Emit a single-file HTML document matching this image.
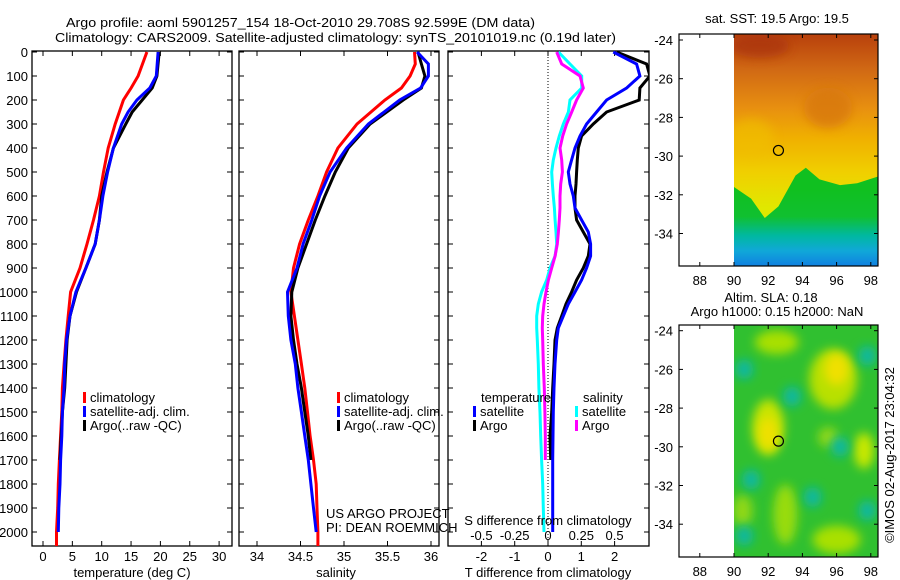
<!DOCTYPE html>
<html><head><meta charset="utf-8">
<style>
html,body{margin:0;padding:0;background:#fff;}
svg{display:block;font-family:"Liberation Sans",sans-serif;}
text{fill:#000;font-size:13px;}
</style></head>
<body>
<svg id="fig" width="900" height="580" viewBox="0 0 900 580">
<defs>
<clipPath id="c1"><rect x="32" y="51" width="200" height="495"/></clipPath>
<clipPath id="c2"><rect x="239" y="51" width="200" height="495"/></clipPath>
<clipPath id="c3"><rect x="448" y="51" width="201" height="495"/></clipPath>
<clipPath id="cm1"><rect x="734" y="34" width="144" height="232"/></clipPath>
<clipPath id="cm2"><rect x="734" y="325" width="144" height="232"/></clipPath>
<linearGradient id="sstg" x1="0" y1="34" x2="0" y2="266" gradientUnits="userSpaceOnUse">
<stop offset="0" stop-color="#b8400c"/><stop offset="0.15" stop-color="#d06814"/>
<stop offset="0.32" stop-color="#e89010"/><stop offset="0.45" stop-color="#f0b000"/>
<stop offset="0.6" stop-color="#f0d000"/><stop offset="0.75" stop-color="#e0e800"/><stop offset="1" stop-color="#d0e800"/></linearGradient>
<linearGradient id="greeng" x1="0" y1="190" x2="0" y2="266" gradientUnits="userSpaceOnUse">
<stop offset="0" stop-color="#10c020"/><stop offset="0.35" stop-color="#10c030"/>
<stop offset="0.6" stop-color="#00b8a0"/><stop offset="0.8" stop-color="#10a8d8"/><stop offset="1" stop-color="#1080e0"/></linearGradient>
<filter id="blur" x="-50%" y="-50%" width="200%" height="200%"><feGaussianBlur stdDeviation="5"/></filter>
</defs>
<g id="panels"></g>
</svg>
<script>
// ---- data ----
const tDepths = [0,100,150,200,250,300,400,500,600,700,800,900,1000,1100,1200,1300,1400,1500,1600,1700,1800,1900,2000,2060];
const tClim = [17.7,16.2,15.0,13.7,13.0,12.3,11.1,10.3,9.6,8.6,7.5,6.3,4.7,4.3,3.9,3.6,3.3,3.2,3.0,2.8,2.6,2.5,2.3,2.3];
const tSat = [19.6,19.3,18.2,16.0,14.5,13.4,12.0,11.0,10.2,9.6,8.9,7.3,5.6,4.6,4.0,3.7,3.6,3.3,3.2,3.0,2.9,2.7,2.6];
const tArgo = [19.8,19.4,18.6,16.9,15.2,14.1,12.0,10.9,10.0,9.6,8.9,7.3,5.7,4.6,4.1,3.9,3.7,3.3,3.1,2.9];
const sDepths = [0,50,100,150,200,300,400,500,600,700,800,900,1000,1100,1200,1300,1400,1500,1600,1700,1800,1900,2000,2060];
const sClim = [35.81,35.82,35.76,35.66,35.47,35.15,34.93,34.80,34.70,34.59,34.49,34.42,34.39,34.43,34.47,34.51,34.55,34.58,34.61,34.65,34.68,34.69,34.70,34.70];
const sSat = [35.84,35.97,35.97,35.88,35.64,35.28,35.03,34.84,34.72,34.63,34.53,34.46,34.35,34.36,34.39,34.44,34.47,34.51,34.55,34.59,34.62,34.65,34.68];
const sArgo = [35.85,35.89,35.93,35.89,35.68,35.30,35.05,34.90,34.78,34.67,34.57,34.47,34.40,34.39,34.42,34.46,34.51,34.55,34.59,34.62];
const dDepths = [0,50,100,150,200,250,300,350,400,450,500,550,600,650,700,750,800,850,900,950,1000,1050,1100,1150,1200,1300,1400,1500,1600,1700,1800,1900,2000];
const dTSat = [1.96,2.66,2.76,2.36,1.76,1.46,1.16,0.96,0.81,0.71,0.61,0.66,0.76,0.81,1.01,1.21,1.28,1.28,1.16,1.01,0.81,0.61,0.46,0.31,0.26,0.21,0.18,0.16,0.15,0.14,0.14,0.14,0.14];
const dTArgo = [2.06,2.96,3.06,2.76,2.74,1.76,1.36,1.01,0.91,0.88,0.86,0.84,0.81,0.81,0.86,1.06,1.26,1.21,1.06,0.86,0.71,0.54,0.41,0.28,0.21,0.18,0.14,0.11,0.06,0.08];
const dSSat = [0.078,0.165,0.253,0.253,0.165,0.153,0.115,0.085,0.06,0.04,0.028,0.033,0.04,0.048,0.053,0.06,0.065,0.053,0.015,-0.01,-0.048,-0.073,-0.085,-0.085,-0.08,-0.073,-0.068,-0.06,-0.055,-0.048,-0.04,-0.035,-0.03];
const dSArgo = [0.065,0.103,0.24,0.265,0.215,0.178,0.14,0.11,0.09,0.103,0.108,0.095,0.09,0.09,0.085,0.078,0.07,0.053,0.028,0.003,-0.015,-0.03,-0.04,-0.043,-0.04,-0.035,-0.028,-0.023,-0.02,-0.02];
const depthTicks = [0,100,200,300,400,500,600,700,800,900,1000,1100,1200,1300,1400,1500,1600,1700,1800,1900,2000];
const tTicks = [0,5,10,15,20,25,30];
const sTicks = [34,34.5,35,35.5,36];
const sTickLabels = ["34","34.5","35","35.5","36"];
const dTTicks = [-2,-1,0,1,2];
const dSTicks = [-0.5,-0.25,0,0.25,0.5];
const dSTickLabels = ["-0.5","-0.25","0","0.25","0.5"];
const lonTicks = [88,90,92,94,96,98];
const latTicks = [-24,-26,-28,-30,-32,-34];
const argoLon = 92.599, argoLat = -29.708;

// ---- scales ----
const yD = d => 52 + d*0.24;
const xT = t => 43 + t*5.87;
const xS = s => 257 + (s-34)*87;
const xDT = v => 548 + v*33.3;
const xDS = v => 548 + v*133.2;
const xLon = l => 734 + (l-90)*17.1;
const yLat1 = l => 40 + (-24-l)*19.35;
const yLat2 = l => 330.7 + (-24-l)*19.35;

const NS = "http://www.w3.org/2000/svg";
const root = document.getElementById('panels');
function mk(tag, attrs, parent, txt){
  const e = document.createElementNS(NS, tag);
  for (const k in attrs) e.setAttribute(k, attrs[k]);
  if (txt !== undefined) e.textContent = txt;
  (parent||root).appendChild(e);
  return e;
}
function line(vals, depths, xf, color, name, clip){
  const pts = vals.map((v,i)=>xf(v).toFixed(1)+','+yD(depths[i]).toFixed(1)).join(' ');
  const p = mk('polyline',{points:pts,fill:'none',stroke:color,'stroke-width':3,'clip-path':'url(#'+clip+')'});
  
  
}
function frame(x0,w,name){
  const r = mk('rect',{x:x0,y:51,width:w,height:495,fill:'none',stroke:'#000','stroke-width':1.3});
  
  
  depthTicks.forEach(d=>{
    mk('line',{x1:x0,x2:x0+5,y1:yD(d),y2:yD(d),stroke:'#000'});
    mk('line',{x1:x0+w-5,x2:x0+w,y1:yD(d),y2:yD(d),stroke:'#000'});
  });
}
function xticks(vals, labels, xf, name){
  vals.forEach((v,i)=>{
    mk('line',{x1:xf(v),x2:xf(v),y1:546,y2:541,stroke:'#000'});
    mk('line',{x1:xf(v),x2:xf(v),y1:51,y2:56,stroke:'#000'});
    const t = mk('text',{x:xf(v),y:561,'text-anchor':'middle'},null,labels[i]);
    
    
  });
}
function legendEntry(x,y,color,label,name){
  mk('rect',{x:x,y:y-10,width:3,height:11,fill:color});
  const t = mk('text',{x:x+7,y:y},null,label);
  
  
}

// titles
let t1 = mk('text',{x:66,y:27,textLength:469,lengthAdjust:'spacingAndGlyphs'},null,'Argo profile: aoml 5901257_154 18-Oct-2010 29.708S 92.599E (DM data)');


let t2 = mk('text',{x:55,y:42,textLength:561,lengthAdjust:'spacingAndGlyphs'},null,'Climatology: CARS2009. Satellite-adjusted climatology: synTS_20101019.nc (0.19d later)');



// panel 1 temperature
frame(32,200,'temperature-panel');
depthTicks.forEach(d=>{
  const t = mk('text',{x:28,y:yD(d)+5,'text-anchor':'end'},null,String(d));
  
  
});
xticks(tTicks, tTicks.map(String), xT, 'temperature-tick-label');
let tt = mk('text',{x:132,y:577,'text-anchor':'middle'},null,'temperature (deg C)');


line(tClim,tDepths,xT,'#ff0000','temperature-climatology-line','c1');
line(tArgo,tDepths,xT,'#000000','temperature-argo-line','c1');
line(tSat,tDepths,xT,'#0000ff','temperature-satellite-line','c1');
legendEntry(83,402,'#ff0000','climatology','legend-climatology');
legendEntry(83,416,'#0000ff','satellite-adj. clim.','legend-satellite');
legendEntry(83,430,'#000000','Argo(..raw -QC)','legend-argo');

// panel 2 salinity
frame(239,200,'salinity-panel');
xticks(sTicks, sTickLabels, xS, 'salinity-tick-label');
let st = mk('text',{x:336,y:577,'text-anchor':'middle'},null,'salinity');


line(sClim,sDepths,xS,'#ff0000','salinity-climatology-line','c2');
line(sArgo,sDepths,xS,'#000000','salinity-argo-line','c2');
line(sSat,sDepths,xS,'#0000ff','salinity-satellite-line','c2');
legendEntry(337,402,'#ff0000','climatology','legend-climatology-sal');
legendEntry(337,416,'#0000ff','satellite-adj. clim.','legend-satellite-sal');
legendEntry(337,430,'#000000','Argo(..raw -QC)','legend-argo-sal');
let us = mk('text',{x:326,y:518},null,'US ARGO PROJECT');


let pi = mk('text',{x:326,y:532},null,'PI: DEAN ROEMMICH');



// panel 3 differences
frame(448,201,'difference-panel');
mk('line',{x1:548,x2:548,y1:51,y2:546,stroke:'#000','stroke-dasharray':'1,2'});
xticks(dTTicks, dTTicks.map(String), xDT, 'tdiff-tick-label');
let dt = mk('text',{x:548,y:577,'text-anchor':'middle'},null,'T difference from climatology');


line(dSSat,dDepths,xDS,'#00ffff','sdiff-satellite-line','c3');
line(dSArgo,dDepths.slice(0,dSArgo.length),xDS,'#ff00ff','sdiff-argo-line','c3');
line(dTArgo,dDepths.slice(0,dTArgo.length),xDT,'#000000','tdiff-argo-line','c3');
line(dTSat,dDepths,xDT,'#0000ff','tdiff-satellite-line','c3');
let sdt = mk('text',{x:548,y:525,'text-anchor':'middle'},null,'S difference from climatology');


dSTicks.forEach((v,i)=>{
  const t = mk('text',{x:xDS(v),y:540,'text-anchor':'middle'},null,dSTickLabels[i]);
  
  
});
let lt = mk('text',{x:481,y:402},null,'temperature');


let ls = mk('text',{x:583,y:402},null,'salinity');


legendEntry(473,416,'#0000ff','satellite','legend-t-satellite');
legendEntry(473,430,'#000000','Argo','legend-t-argo');
legendEntry(575,416,'#00ffff','satellite','legend-s-satellite');
legendEntry(575,430,'#ff00ff','Argo','legend-s-argo');

// maps
function mapAxes(top, yLat, name){
  const r = mk('rect',{x:679,y:top,width:199,height:232,fill:'none',stroke:'#000','stroke-width':1.2});
  
  
  const bot = top+232;
  lonTicks.forEach(l=>{
    mk('line',{x1:xLon(l),x2:xLon(l),y1:bot,y2:bot-4,stroke:'#000'});
    mk('line',{x1:xLon(l),x2:xLon(l),y1:top,y2:top+4,stroke:'#000'});
    const t = mk('text',{x:xLon(l),y:bot+19,'text-anchor':'middle'},null,String(l));
    
    
  });
  latTicks.forEach(l=>{
    mk('line',{x1:679,x2:683,y1:yLat(l),y2:yLat(l),stroke:'#000'});
    mk('line',{x1:874,x2:878,y1:yLat(l),y2:yLat(l),stroke:'#000'});
    const t = mk('text',{x:673,y:yLat(l)+5,'text-anchor':'end'},null,String(l));
    
    
  });
  const c = mk('circle',{cx:xLon(argoLon),cy:yLat(argoLat),r:5,fill:'none',stroke:'#000','stroke-width':1.2});
  
  
}
// SST map
const g1 = mk('g',{'clip-path':'url(#cm1)'});


mk('rect',{x:734,y:34,width:144,height:232,fill:'url(#sstg)'},g1);
mk('ellipse',{cx:xLon(95.5),cy:yLat1(-27.5),rx:24,ry:20,fill:'#d87810',opacity:0.8,filter:'url(#blur)'},g1);
mk('ellipse',{cx:xLon(91.5),cy:yLat1(-24.3),rx:30,ry:12,fill:'#a83008',opacity:0.7,filter:'url(#blur)'},g1);
mk('ellipse',{cx:xLon(91),cy:yLat1(-29),rx:22,ry:18,fill:'#f0c000',opacity:0.6,filter:'url(#blur)'},g1);
const gp = [[90,-31.6],[91,-32.2],[91.8,-33.2],[92.6,-32.6],[93.6,-31],[94.2,-30.6],[95,-31.2],[96.2,-31.5],[97.2,-31.4],[98.6,-31]];
const gpts = gp.map(p=>xLon(p[0])+','+yLat1(p[1])).join(' ')+' 880,270 730,270';
mk('polygon',{points:gpts,fill:'url(#greeng)'},g1);
mapAxes(34,yLat1,'sst-map-frame');
let m1t = mk('text',{x:777,y:23,'text-anchor':'middle'},null,'sat. SST: 19.5 Argo: 19.5');



// SLA map
const g2 = mk('g',{'clip-path':'url(#cm2)'});


mk('rect',{x:734,y:325,width:144,height:232,fill:'#30c030'},g2);
const yb = [[95.8,-26.5,24,30,'#b8e000'],[92,-29,16,28,'#c8e400'],[96,-26,12,16,'#f0e000'],[92,-29.3,9,16,'#f0e000'],[92.5,-24.6,22,12,'#a8e000'],[97.6,-30.2,10,18,'#c8e800'],[93,-33.5,12,30,'#98dc10'],[96,-34.8,24,14,'#a8e000'],[90.5,-33.3,10,16,'#90d818'],[95.5,-29.5,10,10,'#90d818']];
yb.forEach(b=>mk('ellipse',{cx:xLon(b[0]),cy:yLat2(b[1]),rx:b[2],ry:b[3],fill:b[4],filter:'url(#blur)'},g2));
const tb = [[93.4,-27.4],[97.8,-25.3],[90.6,-26],[91,-31.7],[96.2,-30],[90.6,-34.6],[94.6,-32.6],[97.8,-33.3]];
tb.forEach(b=>mk('ellipse',{cx:xLon(b[0]),cy:yLat2(b[1]),rx:9,ry:10,fill:'#10b8a0',filter:'url(#blur)'},g2));
mapAxes(325,yLat2,'sla-map-frame');
let m2a = mk('text',{x:771,y:302,'text-anchor':'middle'},null,'Altim. SLA: 0.18');


let m2b = mk('text',{x:777,y:316,'text-anchor':'middle'},null,'Argo h1000: 0.15 h2000: NaN');


let cr = mk('text',{x:0,y:0,'text-anchor':'middle',transform:'translate(894,455) rotate(-90)'},null,'©IMOS 02-Aug-2017 23:04:32');


</script>
</body></html>
